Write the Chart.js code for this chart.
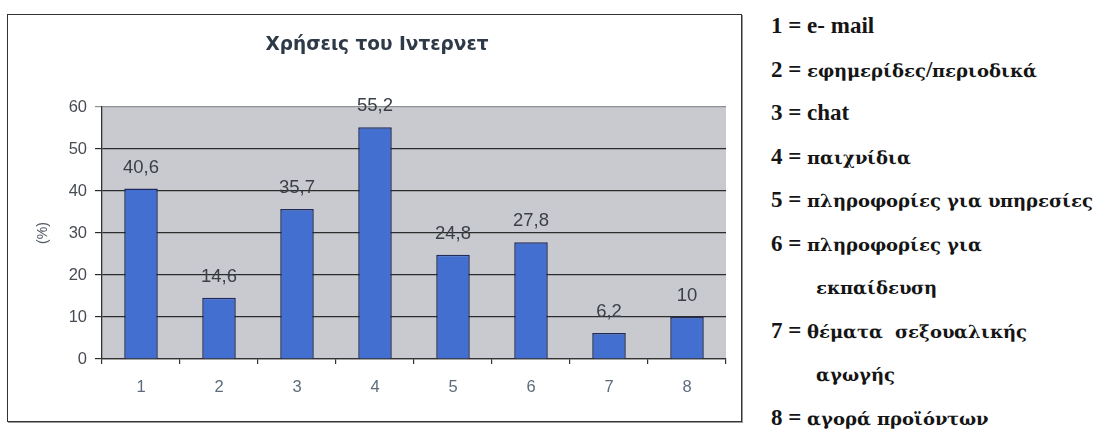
<!DOCTYPE html>
<html>
<head>
<meta charset="utf-8">
<script src="https://cdn.jsdelivr.net/npm/chart.js@4.4.1/dist/chart.umd.min.js"></script>
<style>
  @font-face {
    font-family: "KeyGreek";
    src: local("DejaVu Serif Bold"), local("DejaVuSerif-Bold");
    font-weight: bold;
    unicode-range: U+0370-03FF, U+1F00-1FFF;
    size-adjust: 78.5%;
  }
  html, body { margin: 0; padding: 0; background: #fff; width: 1108px; height: 430px; overflow: hidden; }
  #frame { position: absolute; left: 7px; top: 14px; width: 735px; height: 408px; box-sizing: border-box;
           border: 1px solid #333; box-shadow: 1px 1px 0 #9a9a9a; background: #fff; }
  #frame canvas { position: absolute; left: 0; top: 0; }
  #key { position: absolute; left: 0; top: 0; font-family: "KeyGreek", "Liberation Serif", serif;
         font-weight: bold; font-size: 23px; color: #151515; }
  #key div { position: absolute; white-space: pre; line-height: 26px; }
</style>
</head>
<body>
<div id="frame"><canvas id="usage" width="733" height="406"></canvas></div>
<div id="key"></div>
<script>
// Internet uses, share of respondents (%)
const categories = ['1', '2', '3', '4', '5', '6', '7', '8'];
const shares = [40.6, 14.6, 35.7, 55.2, 24.8, 27.8, 6.2, 10];
const yTicks = [0, 10, 20, 30, 40, 50, 60];
const usageNames = [
  ['e- mail'],
  ['εφημερίδες/περιοδικά'],
  ['chat'],
  ['παιχνίδια'],
  ['πληροφορίες για υπηρεσίες'],
  ['πληροφορίες για', 'εκπαίδευση'],
  ['θέματα  σεξουαλικής', 'αγωγής'],
  ['αγορά προϊόντων']
];

// Key on the right: "n = name", wrapped lines indented
const key = document.getElementById('key');
let row = 0;
usageNames.forEach((lines, i) => {
  lines.forEach((txt, j) => {
    const d = document.createElement('div');
    d.textContent = j === 0 ? categories[i] + ' = ' + txt : txt;
    d.style.left = (j === 0 ? 771 : 816) + 'px';
    d.style.top = (26 + row * 43.5 - 13) + 'px';
    key.appendChild(d);
    row++;
  });
});

const sans = '"Liberation Sans", Arial, sans-serif';

// Grey plotting area behind the bars
const plotBackground = {
  id: 'plotBackground',
  beforeDraw(chart) {
    const { ctx, chartArea: a } = chart;
    ctx.save();
    ctx.fillStyle = '#c9cacf';
    ctx.fillRect(a.left, a.top, a.right - a.left, a.bottom - a.top);
    ctx.restore();
  }
};

// Value printed above each bar, decimal comma
const valueLabels = {
  id: 'valueLabels',
  afterDatasetsDraw(chart) {
    const { ctx } = chart;
    const meta = chart.getDatasetMeta(0);
    const data = chart.data.datasets[0].data;
    ctx.save();
    ctx.font = '18.5px ' + sans;
    ctx.fillStyle = '#3b4048';
    ctx.textAlign = 'center';
    ctx.textBaseline = 'middle';
    meta.data.forEach((bar, i) => {
      ctx.fillText(String(data[i]).replace('.', ','), bar.x, bar.y - 21);
    });
    ctx.restore();
  }
};

new Chart(document.getElementById('usage'), {
  type: 'bar',
  data: {
    labels: categories,
    datasets: [{
      data: shares,
      backgroundColor: '#436fd1',
      borderColor: '#1f2b5c',
      borderWidth: 1.5,
      barPercentage: 0.43,
      categoryPercentage: 1.0
    }]
  },
  options: {
    responsive: false,
    animation: false,
    devicePixelRatio: 1,
    layout: { padding: { left: 20, right: 15, top: 0, bottom: 0 } },
    plugins: {
      legend: { display: false },
      tooltip: { enabled: false },
      title: {
        display: true,
        text: 'Χρήσεις του Ιντερνετ',
        color: '#2f3a48',
        font: { family: '"DejaVu Sans", Verdana, sans-serif', size: 18.5, weight: 'bold' },
        padding: { top: 19, bottom: 50.8 }
      }
    },
    scales: {
      x: {
        offset: true,
        grid: { display: true, offset: true, drawOnChartArea: false, drawTicks: true, tickLength: 5, color: '#333', lineWidth: 1.2 },
        border: { display: true, color: '#333', width: 1.3 },
        ticks: { color: '#5d6b7a', font: { family: sans, size: 16.5 }, padding: 14 },
        afterFit(s) { s.height = 62; }
      },
      y: {
        min: 0,
        max: 60,
        afterBuildTicks(s) { s.ticks = yTicks.map(v => ({ value: v })); },
        grid: {
          color: c => (c.tick && c.tick.value === 60 ? '#8f9094' : '#2c2c2c'),
          lineWidth: 1.2,
          tickLength: 7
        },
        border: { display: true, color: '#333', width: 1.3 },
        ticks: { color: '#474c54', font: { family: sans, size: 16.5 }, padding: 8 },
        title: {
          display: true,
          text: '(%)',
          color: '#4d5560',
          font: { family: sans, size: 14 },
          padding: { top: 7, bottom: 0 }
        },
        afterFit(s) { s.width = 74; }
      }
    }
  },
  plugins: [plotBackground, valueLabels]
});
</script>
</body>
</html>
